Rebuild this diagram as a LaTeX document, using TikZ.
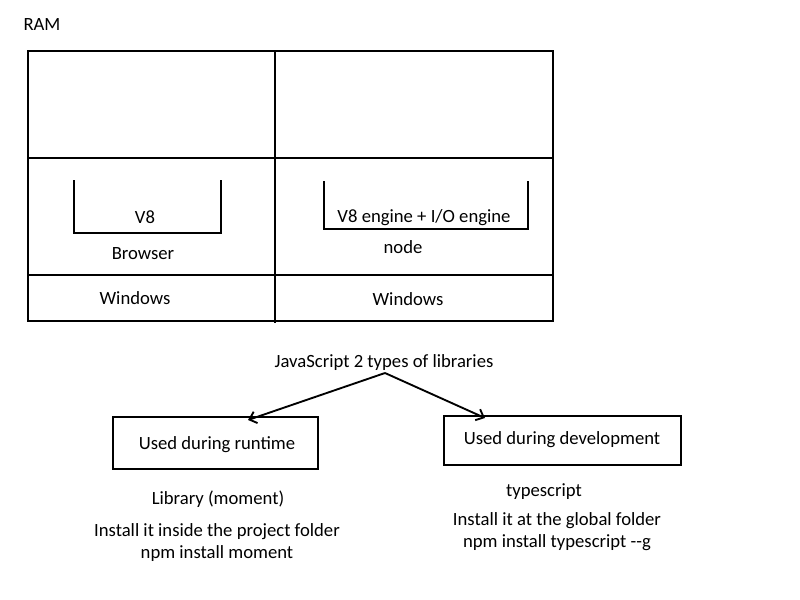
\documentclass[tikz,border=0pt]{standalone}
\usepackage{fontspec}
\setmainfont{Carlito}
\usetikzlibrary{arrows.meta}
\begin{document}
\begin{tikzpicture}[x=0.75pt,y=-0.75pt,
  txt/.style={inner sep=0pt,font=\fontsize{14pt}{16pt}\selectfont},
  frame/.style={draw,line width=1.4pt},
  thin/.style={draw,line width=1.1pt},
  arr/.style={draw,line width=1.4pt,-{Straight Barb[length=5pt,width=9pt]}}]
\useasboundingbox (0,0) rectangle (800,600);
\node[txt] (ram) at (42,24.5) {RAM};
% outer frame
\coordinate (tl) at (28,51);
\coordinate (br) at (553,321);
\draw[frame] (tl) rectangle (br);
\coordinate (vt) at (275,51);
\coordinate (vb) at (275,323);
\draw[thin] (vt) -- (vb);
\coordinate (h1l) at (28,158); \coordinate (h1r) at (553,158);
\coordinate (h2l) at (28,275); \coordinate (h2r) at (553,275);
\draw[thin] (h1l) -- (h1r);
\draw[thin] (h2l) -- (h2r);
% V8 bracket
\coordinate (b1a) at (74,180); \coordinate (b1b) at (74,233);
\coordinate (b1c) at (221,233); \coordinate (b1d) at (221,180);
\draw[frame] (b1a) -- (b1b) -- (b1c) -- (b1d);
\node[txt] (v8) at (145,217.5) {V8};
\node[txt] (browser) at (143,253.5) {Browser};
% node bracket
\coordinate (b2a) at (324,181); \coordinate (b2b) at (324,229);
\coordinate (b2c) at (528,229); \coordinate (b2d) at (528,181);
\draw[frame] (b2a) -- (b2b) -- (b2c) -- (b2d);
\node[txt] (v8io) at (424,217.5) {V8 engine + I/O engine};
\node[txt] (nodetxt) at (403,247.5) {node};
\node[txt] (win1) at (135,298.5) {Windows};
\node[txt] (win2) at (408,299.5) {Windows};
% libraries
\node[txt] (js) at (384,362.5) {JavaScript 2 types of libraries};
\node[frame,minimum width=205pt*0.75,minimum height=52pt*0.75,inner sep=0pt] (run) at (215.5,443) {};
\node[txt] (runt) at (217,444.5) {Used during runtime};
\node[frame,minimum width=237pt*0.75,minimum height=49pt*0.75,inner sep=0pt] (dev) at (562.5,440.5) {};
\node[txt] (devt) at (562,439.5) {Used during development};
\coordinate (apex) at (385,373);
\coordinate (lt) at (248,420);
\coordinate (rt) at (485,418);
\draw[arr] (apex) -- (lt);
\draw[arr] (apex) -- (rt);
\node[txt] (lib) at (218,499.5) {Library (moment)};
\node[txt] (inst1) at (217,531.5) {Install it inside the project folder};
\node[txt] (npm1) at (217,553.5) {npm install moment};
\node[txt] (ts) at (544,491.5) {typescript};
\node[txt] (inst2) at (557,520.5) {Install it at the global folder};
\node[txt] (npm2) at (557,542.5) {npm install typescript -{}-g};
\end{tikzpicture}
\end{document}
